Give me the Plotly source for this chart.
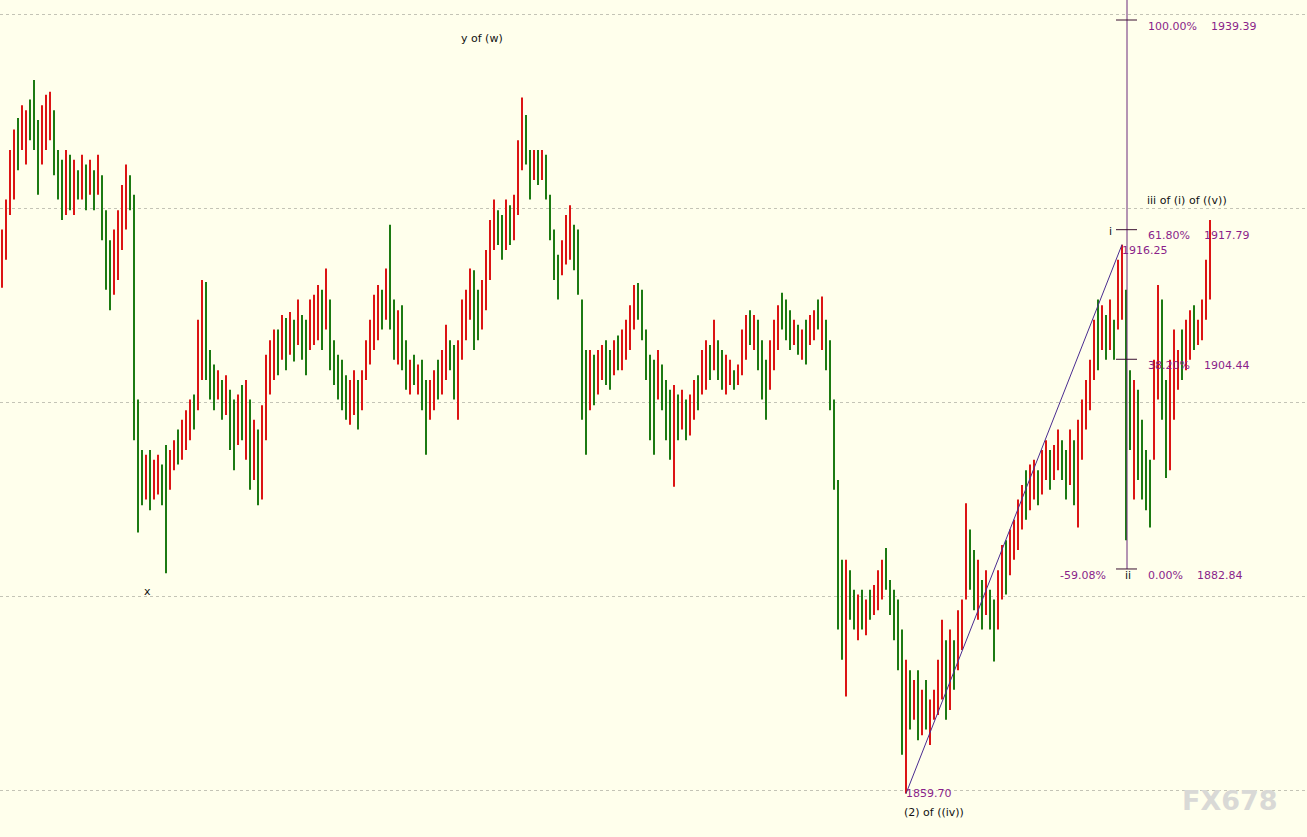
import plotly.graph_objects as go

# ---------------- data (prices) ----------------
high = [
    1917.8, 1920.9, 1926.0, 1928.1, 1929.3, 1930.6, 1930.1, 1931.2, 1933.2, 1929.1,
    1930.6, 1931.7, 1932.0, 1930.1, 1926.0, 1925.0, 1926.0, 1925.5, 1925.0, 1923.9,
    1925.5, 1924.5, 1925.0, 1923.9, 1925.5, 1923.4, 1919.8, 1916.7, 1917.8, 1919.8,
    1922.4, 1924.5, 1923.4, 1921.4, 1900.3, 1895.1, 1894.6, 1895.1, 1894.1, 1894.6,
    1893.6, 1895.6, 1895.1, 1896.1, 1897.2, 1898.2, 1899.2, 1900.3, 1900.8, 1908.5,
    1912.6, 1912.4, 1905.4, 1903.9, 1903.3, 1902.3, 1902.8, 1901.3, 1900.3, 1900.8,
    1901.8, 1902.3, 1900.3, 1898.2, 1897.2, 1899.7, 1904.9, 1906.4, 1907.5, 1907.5,
    1909.0, 1908.7, 1909.3, 1908.5, 1910.6, 1909.0, 1908.5, 1910.6, 1911.1, 1912.1,
    1911.6, 1913.8, 1910.6, 1906.4, 1904.9, 1904.4, 1902.8, 1902.3, 1903.3, 1902.3,
    1903.3, 1906.4, 1908.5, 1911.1, 1912.1, 1911.6, 1913.8, 1918.3, 1910.6, 1909.5,
    1910.0, 1906.4, 1904.4, 1904.9, 1903.9, 1904.4, 1902.3, 1902.3, 1903.3, 1904.4,
    1905.4, 1908.0, 1906.4, 1905.9, 1906.4, 1910.6, 1911.6, 1913.8, 1913.6, 1911.6,
    1912.6, 1915.7, 1918.8, 1920.9, 1919.8, 1919.3, 1920.9, 1920.3, 1921.4, 1927.0,
    1931.4, 1929.6, 1926.0, 1926.0, 1926.0, 1926.0, 1925.5, 1921.4, 1917.8, 1915.2,
    1916.7, 1919.3, 1920.3, 1918.3, 1917.8, 1910.6, 1905.4, 1905.4, 1904.9, 1905.4,
    1905.9, 1906.4, 1905.4, 1906.4, 1906.9, 1907.5, 1908.5, 1910.0, 1912.1, 1912.3,
    1911.6, 1907.5, 1904.9, 1904.4, 1905.4, 1903.9, 1902.3, 1901.3, 1901.8, 1900.8,
    1901.3, 1900.3, 1900.8, 1902.3, 1902.8, 1905.4, 1906.4, 1905.9, 1908.5, 1906.4,
    1905.4, 1904.9, 1904.4, 1903.3, 1903.9, 1907.5, 1909.0, 1909.5, 1909.0, 1908.5,
    1906.4, 1904.4, 1906.4, 1908.5, 1910.0, 1911.3, 1910.6, 1909.5, 1908.5, 1908.0,
    1907.5, 1908.5, 1909.0, 1909.5, 1910.6, 1910.9, 1908.5, 1906.4, 1900.3, 1892.0,
    1883.8, 1883.8, 1882.7, 1880.7, 1880.2, 1880.7, 1879.7, 1880.7, 1881.2, 1882.7,
    1883.8, 1885.0, 1881.7, 1880.7, 1879.7, 1876.6, 1873.5, 1872.4, 1871.4, 1872.4,
    1870.4, 1871.4, 1869.4, 1870.4, 1873.5, 1877.6, 1875.5, 1876.6, 1875.5, 1878.6,
    1879.7, 1889.6, 1886.9, 1884.8, 1883.8, 1881.7, 1882.7, 1880.7, 1879.7, 1882.7,
    1885.3, 1885.8, 1886.9, 1887.9, 1890.0, 1891.5, 1893.0, 1893.6, 1894.1, 1893.0,
    1895.1, 1896.1, 1895.1, 1895.6, 1897.2, 1896.1, 1895.1, 1897.2, 1896.1, 1898.2,
    1900.3, 1902.3, 1904.4, 1908.5, 1910.6, 1910.0, 1909.0, 1910.6, 1908.5, 1914.7,
    1916.25, 1911.6, 1903.3, 1902.3, 1901.3, 1898.2, 1895.1, 1894.1, 1904.4, 1912.1,
    1910.6, 1902.3, 1904.4, 1907.5, 1905.4, 1907.5, 1908.5, 1909.5, 1910.0, 1908.5,
    1910.6, 1914.7, 1918.8,
]
low = [
    1911.8, 1914.7, 1919.3, 1920.9, 1923.9, 1926.0, 1924.5, 1927.0, 1926.0, 1921.4,
    1924.5, 1926.0, 1927.0, 1923.4, 1920.9, 1918.8, 1919.3, 1919.8, 1919.3, 1920.9,
    1920.9, 1919.8, 1921.4, 1919.8, 1921.4, 1916.7, 1911.6, 1909.5, 1911.1, 1912.6,
    1915.7, 1917.8, 1919.8, 1896.1, 1886.6, 1889.4, 1890.0, 1888.9, 1890.0, 1890.5,
    1889.4, 1882.4, 1891.0, 1893.0, 1893.6, 1894.1, 1895.1, 1896.1, 1897.2, 1899.2,
    1902.3, 1902.3, 1900.3, 1899.2, 1900.3, 1898.2, 1898.7, 1895.1, 1893.0, 1895.6,
    1896.1, 1894.1, 1891.0, 1892.0, 1889.4, 1890.0, 1896.1, 1900.8, 1902.3, 1902.8,
    1904.4, 1903.3, 1904.9, 1904.2, 1905.9, 1904.4, 1902.8, 1905.4, 1905.9, 1906.4,
    1905.4, 1907.5, 1903.3, 1901.8, 1900.3, 1899.2, 1898.2, 1897.7, 1898.7, 1897.2,
    1899.2, 1902.3, 1903.9, 1905.4, 1906.4, 1907.5, 1908.5, 1907.5, 1904.4, 1903.9,
    1903.3, 1901.3, 1900.8, 1901.8, 1900.8, 1899.2, 1894.6, 1898.2, 1899.2, 1900.3,
    1900.8, 1902.3, 1903.3, 1900.3, 1898.2, 1904.4, 1906.4, 1908.5, 1905.4, 1906.4,
    1907.5, 1909.5, 1912.6, 1915.7, 1916.2, 1914.7, 1915.7, 1916.2, 1916.7, 1919.3,
    1923.9, 1924.5, 1920.9, 1922.9, 1922.4, 1922.9, 1920.9, 1916.7, 1912.6, 1910.6,
    1913.1, 1914.2, 1914.7, 1913.6, 1911.1, 1898.2, 1894.6, 1899.2, 1899.7, 1900.8,
    1902.3, 1901.8, 1901.3, 1902.8, 1903.3, 1903.3, 1904.4, 1905.4, 1907.5, 1908.5,
    1906.4, 1902.3, 1896.1, 1894.6, 1900.3, 1899.2, 1896.1, 1894.1, 1891.3, 1896.1,
    1897.2, 1896.1, 1896.6, 1898.2, 1899.2, 1900.8, 1901.3, 1902.3, 1903.3, 1902.3,
    1901.3, 1900.8, 1901.8, 1901.3, 1901.8, 1902.8, 1904.4, 1905.9, 1905.4, 1903.3,
    1900.3, 1898.2, 1901.3, 1903.3, 1905.4, 1907.5, 1906.4, 1905.4, 1905.9, 1904.9,
    1904.4, 1903.9, 1905.9, 1906.4, 1907.5, 1905.4, 1903.3, 1899.2, 1891.0, 1876.6,
    1873.5, 1869.7, 1877.6, 1876.6, 1875.5, 1876.6, 1876.0, 1877.6, 1878.1, 1878.6,
    1879.7, 1880.7, 1878.1, 1875.5, 1872.4, 1863.7, 1859.70, 1866.3, 1867.3, 1865.2,
    1865.7, 1866.3, 1864.7, 1867.3, 1867.8, 1869.4, 1867.3, 1868.3, 1870.4, 1872.4,
    1874.5, 1879.7, 1880.7, 1878.6, 1877.6, 1876.6, 1878.1, 1876.6, 1873.3, 1876.6,
    1879.7, 1880.2, 1882.2, 1883.8, 1884.8, 1886.9, 1887.9, 1888.9, 1890.0, 1889.4,
    1890.5, 1892.0, 1891.0, 1892.0, 1893.0, 1892.0, 1890.0, 1891.5, 1889.4, 1887.1,
    1894.1, 1897.2, 1899.2, 1902.3, 1903.3, 1905.4, 1904.4, 1905.4, 1904.4, 1907.5,
    1908.5, 1885.8, 1895.1, 1890.0, 1892.0, 1890.0, 1888.9, 1887.1, 1894.1, 1900.3,
    1898.2, 1892.2, 1893.0, 1898.2, 1901.3, 1902.3, 1903.3, 1904.4, 1905.4, 1905.9,
    1906.4, 1908.5, 1910.6,
]
# u = bullish bar (red), d = bearish bar (green)
direction = (
    "u u u u d u u d d d  u u u d d d u d u d  u d u d u d d d u u "
    "u u d d d d u d u u  d d u u d u u u d u  u d d d u d u d d u "
    "d u d u d u u u u d  u d u d u d d u u u  d u d d d d d u u d "
    "u u u u u d u d d u  d d u d u d d u u d  u u d d u u u u d d "
    "u u u u d d u d u u  u d d u d u d d d d  u u u d d d d u d u "
    "u d d u d u u u u d  d d d d u d d d u d  u d u u d u u d u d "
    "d u u d u u u d u d  d d u u u d d d u d  u d u u d u d d d d "
    "d u d d u d u d u u  u d d d d d u d u d  u d u u u u d u d u "
    "u u d d u d u d d u  u d u u u u d u u d  u u d u u d d u d u "
    "u u u u d u d u d u  u d d u d d d d u u  d d u u u d u u d u "
    "u u u"
).split()

fib_levels = [1882.84, 1904.44, 1917.79, 1939.39]
fib_pct = ["0.00%", "38.20%", "61.80%", "100.00%"]
fib_price_txt = ["1882.84", "1904.44", "1917.79", "1939.39"]
grid_levels = [1860, 1880, 1900, 1920, 1940]

# ---------------- figure ----------------
RED = "#DC1414"
GREEN = "#1C7A12"
PURPLE = "#8A1F8A"
LINEC = "#4A2C90"
FIBC = "#6A2A7A"
BG = "#FFFFEC"

n = len(high)
xu, yu, xd, yd = [], [], [], []
for i in range(n):
    if direction[i] == "u":
        xu += [i, i, None]
        yu += [low[i], high[i], None]
    else:
        xd += [i, i, None]
        yd += [low[i], high[i], None]

fig = go.Figure()
fig.add_trace(go.Scatter(x=xd, y=yd, mode="lines", line=dict(color=GREEN, width=2),
                         hoverinfo="skip", showlegend=False))
fig.add_trace(go.Scatter(x=xu, y=yu, mode="lines", line=dict(color=RED, width=2),
                         hoverinfo="skip", showlegend=False))

# trend line from the (2) low to the i high
i_low = low.index(min(low))
i_high = 280
fig.add_trace(go.Scatter(x=[i_low, i_high], y=[low[i_low], high[i_high]], mode="lines",
                         line=dict(color=LINEC, width=1), hoverinfo="skip", showlegend=False))

# Fibonacci retracement drawing
fib_x = 281.25
fig.add_trace(go.Scatter(x=[fib_x, fib_x], y=[fib_levels[0], 1946], mode="lines",
                         line=dict(color=FIBC, width=1), hoverinfo="skip", showlegend=False))
fx, fy = [], []
for lv in fib_levels:
    fx += [fib_x - 2.75, fib_x + 2.5, None]
    fy += [lv, lv, None]
fig.add_trace(go.Scatter(x=fx, y=fy, mode="lines", line=dict(color="#3A1030", width=1),
                         hoverinfo="skip", showlegend=False))

FONT = "DejaVu Sans"
ann = []


def txt(x, y, s, color="#111111", size=11, anchor="left"):
    ann.append(dict(x=x, y=y, text=s, showarrow=False, xanchor=anchor, yanchor="middle",
                    font=dict(family=FONT, size=size, color=color)))


for lv, pct, ptx in zip(fib_levels, fib_pct, fib_price_txt):
    ylab = lv - 0.65
    txt(286.0, ylab, pct, PURPLE)
    txt(301.75 if pct == "100.00%" else (298.25 if pct == "0.00%" else 300.0), ylab, ptx, PURPLE)

txt(264.0, fib_levels[0] - 0.65, "-59.08%", PURPLE)
txt(281.5, fib_levels[0] - 0.65, "ii", anchor="center")
txt(277.2, 1917.6, "i", anchor="center")
txt(279.5, high[i_high] - 0.65, "1916.25", PURPLE)
txt(225.5, low[i_low] + 0.05, "1859.70", PURPLE)
txt(225.0, 1857.75, "(2) of ((iv))")
txt(114.25, 1937.5, "y of (w)")
txt(36.25, 1880.5, "x", anchor="center")
txt(285.75, 1920.75, "iii of (i) of ((v))")

ann.append(dict(xref="paper", yref="paper", x=0.9025, y=0.044, text="<b>FX678</b>",
                showarrow=False, xanchor="left", yanchor="middle",
                font=dict(family="DejaVu Sans", size=27, color="#D9D9D6")))

fig.update_layout(
    width=1307, height=837,
    margin=dict(l=0, r=0, t=0, b=0),
    paper_bgcolor=BG, plot_bgcolor=BG,
    annotations=ann,
    xaxis=dict(range=[-0.5, 326.25], showgrid=False, zeroline=False, showticklabels=False,
               ticks="", showline=False, fixedrange=True),
    yaxis=dict(range=[1855.23, 1941.45], tickvals=grid_levels, showticklabels=False,
               showgrid=True, gridcolor="#C4C4B6", griddash="dot", gridwidth=1,
               zeroline=False, ticks="", showline=False, fixedrange=True),
)

fig.write_html("out.html", config={"displayModeBar": False},
               post_script="document.body.style.margin='0';document.body.style.overflow='hidden';")
